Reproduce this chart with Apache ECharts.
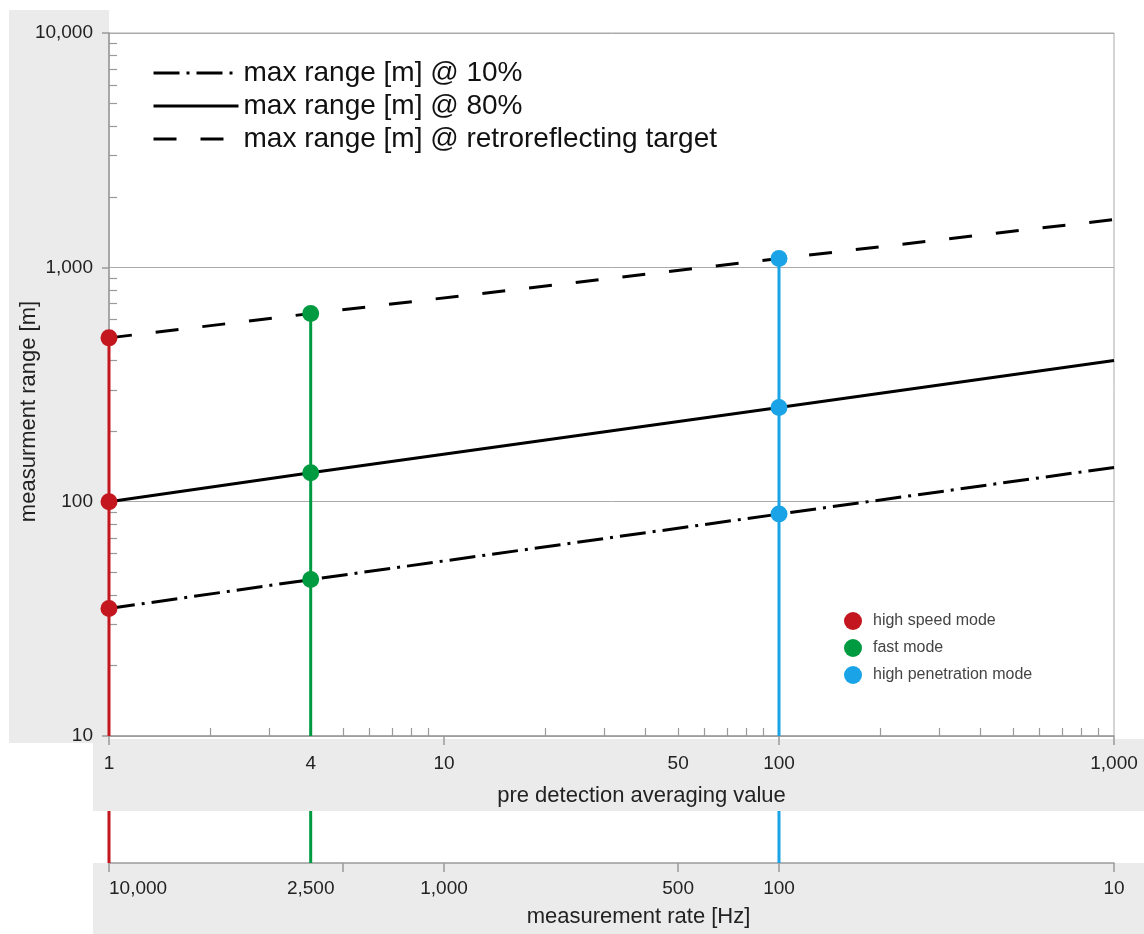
<!DOCTYPE html>
<html><head><meta charset="utf-8">
<script src="https://cdn.jsdelivr.net/npm/echarts@6/dist/echarts.min.js"></script>
<style>html,body{margin:0;padding:0;background:#fff}#c{width:1144px;height:934px}</style>
</head><body><div id="c"></div>
<script>
// ---- data ----
const avgValues = [1, 4, 100, 1000];
const range10 = [35, 46.5, 88.5, 140];
const range80 = [100, 133, 252, 400];
const rangeRetro = [500, 635, 1090, 1600];
const lineNames = ['max range [m] @ 10%', 'max range [m] @ 80%', 'max range [m] @ retroreflecting target'];
const modeNames = ['high speed mode', 'fast mode', 'high penetration mode'];
const modeAvg = [1, 4, 100];
const modeColors = ['#c3161f', '#009a40', '#1aa3e6'];
const avgLabelValues = [1, 4, 10, 50, 100, 1000];
const avgMajorTicks = [1, 10, 100, 1000];
const avgMinorTicks = [2, 3, 4, 5, 6, 7, 8, 9, 20, 30, 40, 50, 60, 70, 80, 90, 200, 300, 400, 500, 600, 700, 800, 900];
const rateLabelPositions = [1, 4, 10, 50, 100, 1000];
const rateLabels = ['10,000', '2,500', '1,000', '500', '100', '10'];
const rateTickPositions = [1, 5, 10, 50, 100, 1000];
const rangeMajorTicks = [10, 100, 1000, 10000];
const rangeMinorTicks = [20, 30, 40, 50, 60, 70, 80, 90, 200, 300, 400, 500, 600, 700, 800, 900, 2000, 3000, 4000, 5000, 6000, 7000, 8000, 9000];

// ---- styles ----
const FONT = "'Liberation Sans', Arial, Helvetica, sans-serif";
const AXIS_GRAY = '#9a9a9a';
const BAND = '#ebebeb';
const TXT = '#222';
const lineTypes = [[26, 7, 3, 7], 'solid', [23, 24]];

const fmt = v => Number(v).toLocaleString('en-US');
const findIdx = (arr, v) => arr.findIndex(a => Math.abs(Math.log10(a) - Math.log10(v)) < 1e-6);

const rangeSets = [range10, range80, rangeRetro];
const series = [];
rangeSets.forEach((vals, k) => {
  series.push({
    name: lineNames[k], type: 'line', xAxisIndex: 0, yAxisIndex: 0,
    data: avgValues.map((x, i) => [x, vals[i]]),
    symbol: 'none', z: 3, color: '#000',
    lineStyle: { color: '#000', width: 3, type: lineTypes[k] }
  });
});
modeAvg.forEach((x, m) => {
  const idx = avgValues.indexOf(x);
  const vals = rangeSets.map(s => s[idx]);
  const top = Math.max(...vals);
  series.push({
    name: 'stem-' + m, type: 'line', xAxisIndex: 0, yAxisIndex: 0,
    data: [[x, 10], [x, top]], symbol: 'none', z: 2,
    lineStyle: { color: modeColors[m], width: 3 }
  });
  series.push({
    name: 'stem-low-' + m, type: 'line', xAxisIndex: 2, yAxisIndex: 2,
    data: [[x, 0], [x, 1]], symbol: 'none', z: 2,
    lineStyle: { color: modeColors[m], width: 3 }
  });
  series.push({
    name: modeNames[m], type: 'scatter', xAxisIndex: 0, yAxisIndex: 0,
    data: vals.map(v => [x, v]), symbolSize: 17, z: 6,
    itemStyle: { color: modeColors[m], opacity: 1 }
  });
});

const option = {
  animation: false,
  backgroundColor: '#fff',
  textStyle: { fontFamily: FONT },
  graphic: [
    { type: 'rect', z: -10, silent: true, shape: { x: 9, y: 10, width: 100, height: 733 }, style: { fill: BAND } },
    { type: 'rect', z: -10, silent: true, shape: { x: 93, y: 739, width: 1051, height: 72 }, style: { fill: BAND } },
    { type: 'rect', z: -10, silent: true, shape: { x: 93, y: 863, width: 1051, height: 71 }, style: { fill: BAND } }
  ],
  grid: [
    { left: 109, right: 30, top: 33, bottom: 198, outerBoundsMode: 'none', containLabel: false, show: true, borderColor: '#aaa', borderWidth: 1, backgroundColor: '#fff' },
    { left: 109, right: 30, top: 811, bottom: 71, outerBoundsMode: 'none', containLabel: false }
  ],
  legend: [
    {
      data: lineNames, orient: 'vertical', left: 152, top: 59, padding: 0, itemWidth: 85, itemHeight: 16, itemGap: 5,
      selectedMode: false, lineStyle: { width: 3 }, itemStyle: { opacity: 0 },
      textStyle: { fontSize: 28, color: '#111', fontFamily: FONT }
    },
    {
      data: modeNames, orient: 'vertical', left: 844, top: 612, padding: 0, itemWidth: 30, itemHeight: 18, itemGap: 9,
      icon: 'circle', selectedMode: false,
      textStyle: { fontSize: 16, color: '#444', fontFamily: FONT }
    }
  ],
  xAxis: [
    {
      gridIndex: 0, type: 'log', logBase: 10, min: 1, max: 1000, position: 'bottom',
      axisLine: { lineStyle: { color: AXIS_GRAY, width: 1.5 } },
      axisTick: { customValues: avgMajorTicks, length: 9, inside: false, lineStyle: { color: AXIS_GRAY, width: 1.5 } },
      axisLabel: { customValues: avgLabelValues, formatter: fmt, fontSize: 19, color: TXT, margin: 18 },
      splitLine: { show: false },
      name: 'pre detection averaging value', nameLocation: 'middle', nameGap: 49,
      nameTextStyle: { fontSize: 22, color: TXT, padding: [0, 0, 0, 60] }
    },
    {
      gridIndex: 0, type: 'log', logBase: 10, min: 1, max: 1000, position: 'bottom', offset: 0,
      axisLine: { show: false },
      axisTick: { customValues: avgMinorTicks, length: 8, inside: true, lineStyle: { color: AXIS_GRAY, width: 1.2 } },
      axisLabel: { show: false }, splitLine: { show: false }
    },
    {
      gridIndex: 1, type: 'log', logBase: 10, min: 1, max: 1000, position: 'bottom',
      axisLine: { lineStyle: { color: AXIS_GRAY, width: 1.5 } },
      axisTick: { customValues: rateTickPositions, length: 9, inside: false, lineStyle: { color: AXIS_GRAY, width: 1.5 } },
      axisLabel: {
        customValues: rateLabelPositions, fontSize: 19, color: TXT, margin: 16, alignMinLabel: 'left',
        formatter: v => rateLabels[findIdx(rateLabelPositions, v)]
      },
      splitLine: { show: false },
      name: 'measurement rate [Hz]', nameLocation: 'middle', nameGap: 43,
      nameTextStyle: { fontSize: 22, color: TXT, padding: [0, 0, 0, 54] }
    }
  ],
  yAxis: [
    {
      gridIndex: 0, type: 'log', logBase: 10, min: 10, max: 10000, position: 'left',
      axisLine: { lineStyle: { color: AXIS_GRAY, width: 1.5 } },
      axisTick: { customValues: rangeMajorTicks, length: 7, inside: false, lineStyle: { color: AXIS_GRAY, width: 1.5 } },
      axisLabel: { customValues: rangeMajorTicks, formatter: fmt, fontSize: 19, color: TXT, margin: 16 },
      splitLine: { show: true, lineStyle: { color: '#aaa', width: 1 } },
      name: 'measurment range [m]', nameLocation: 'middle', nameGap: 69, nameMoveOverlap: false,
      nameTextStyle: { fontSize: 22, color: TXT, padding: [0, 54, 0, 0] }
    },
    {
      gridIndex: 0, type: 'log', logBase: 10, min: 10, max: 10000, position: 'left', offset: 0,
      axisLine: { show: false },
      axisTick: { customValues: rangeMinorTicks, length: 8, inside: true, lineStyle: { color: AXIS_GRAY, width: 1.2 } },
      axisLabel: { show: false }, splitLine: { show: false }
    },
    { gridIndex: 1, type: 'value', min: 0, max: 1, show: false }
  ],
  series: series
};
const chart = echarts.init(document.getElementById('c'), null, { renderer: 'canvas' });
chart.setOption(option);
</script>
</body></html>
